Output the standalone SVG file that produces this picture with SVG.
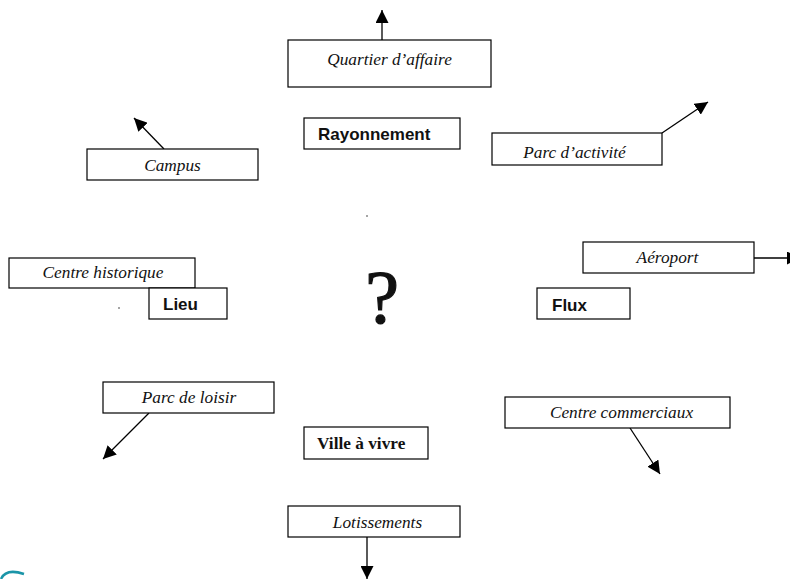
<svg xmlns="http://www.w3.org/2000/svg" width="790" height="579" viewBox="0 0 790 579">
<style>
.box{fill:#fff;stroke:#000;stroke-width:1.2}
.it{font-family:"Liberation Serif","Times New Roman",serif;font-style:italic;font-size:17.3px;fill:#111}
.bs{font-family:"Liberation Sans",Arial,sans-serif;font-weight:bold;font-size:17px;fill:#111}
.bt{font-family:"Liberation Serif","Times New Roman",serif;font-weight:bold;font-size:17.3px;fill:#111}
.c{stroke:#000;stroke-width:1.3;fill:none}
.m{text-anchor:middle}
</style>
<defs>
<marker id="ah" viewBox="0 0 10 10" refX="10" refY="5" markerWidth="13" markerHeight="13" markerUnits="userSpaceOnUse" orient="auto">
<path d="M0,0 L10,5 L0,10 Z" fill="#000"/>
</marker>
</defs>
<rect width="790" height="579" fill="#fff"/>
<g id="connectors">
<line class="c" x1="382" y1="40" x2="382" y2="10" marker-end="url(#ah)"/>
<line class="c" x1="164" y1="149" x2="134" y2="118" marker-end="url(#ah)"/>
<line class="c" x1="662" y1="133" x2="708" y2="102" marker-end="url(#ah)"/>
<line class="c" x1="754" y1="258" x2="800" y2="258" marker-end="url(#ah)"/>
<line class="c" x1="149" y1="413" x2="103" y2="459" marker-end="url(#ah)"/>
<line class="c" x1="630" y1="428" x2="660" y2="474" marker-end="url(#ah)"/>
<line class="c" x1="367" y1="537" x2="367" y2="579" marker-end="url(#ah)"/>
</g>
<g id="quartier"><rect class="box" x="288" y="40" width="203" height="47"/><text class="it m" x="389.5" y="65">Quartier d’affaire</text></g>
<g id="campus"><rect class="box" x="87" y="149" width="171" height="31"/><text class="it m" x="172.5" y="171">Campus</text></g>
<g id="parc-activite"><rect class="box" x="492" y="133" width="170" height="32"/><text class="it m" x="574.5" y="158">Parc d’activité</text></g>
<g id="rayonnement"><rect class="box" x="304" y="118" width="156" height="31"/><text class="bs" x="318" y="140">Rayonnement</text></g>
<circle cx="367" cy="216" r="0.8" fill="#333"/>
<g id="centre-historique"><rect class="box" x="9" y="258" width="186" height="30"/><text class="it m" x="103" y="278">Centre historique</text></g>
<g id="lieu"><rect class="box" x="149" y="288" width="78" height="31"/><text class="bs" x="163" y="310">Lieu</text></g>
<circle cx="119" cy="308" r="0.8" fill="#333"/>
<g id="aeroport"><rect class="box" x="583" y="242" width="171" height="31"/><text class="it m" x="667.5" y="263">Aéroport</text></g>
<g id="flux"><rect class="box" x="537" y="288" width="93" height="31"/><text class="bs" x="552" y="311">Flux</text></g>
<g id="question"><text x="382" y="323" class="m" style="font-family:'Liberation Serif','Times New Roman',serif;font-size:76px;fill:#111;stroke:#111;stroke-width:1.2">?</text></g>
<g id="parc-loisir"><rect class="box" x="103" y="382" width="171" height="31"/><text class="it m" x="189" y="403">Parc de loisir</text></g>
<g id="centre-commerciaux"><rect class="box" x="505" y="397" width="225" height="31"/><text class="it m" x="621.5" y="418">Centre commerciaux</text></g>
<g id="ville"><rect class="box" x="304" y="427" width="124" height="32"/><text class="bt" x="317" y="449">Ville à vivre</text></g>
<g id="lotissements"><rect class="box" x="288" y="506" width="172" height="31"/><text class="it m" x="377.5" y="528">Lotissements</text></g>
<path d="M1,579 Q6,568 24,574" stroke="#1b95a8" stroke-width="2.5" fill="none"/>
</svg>
